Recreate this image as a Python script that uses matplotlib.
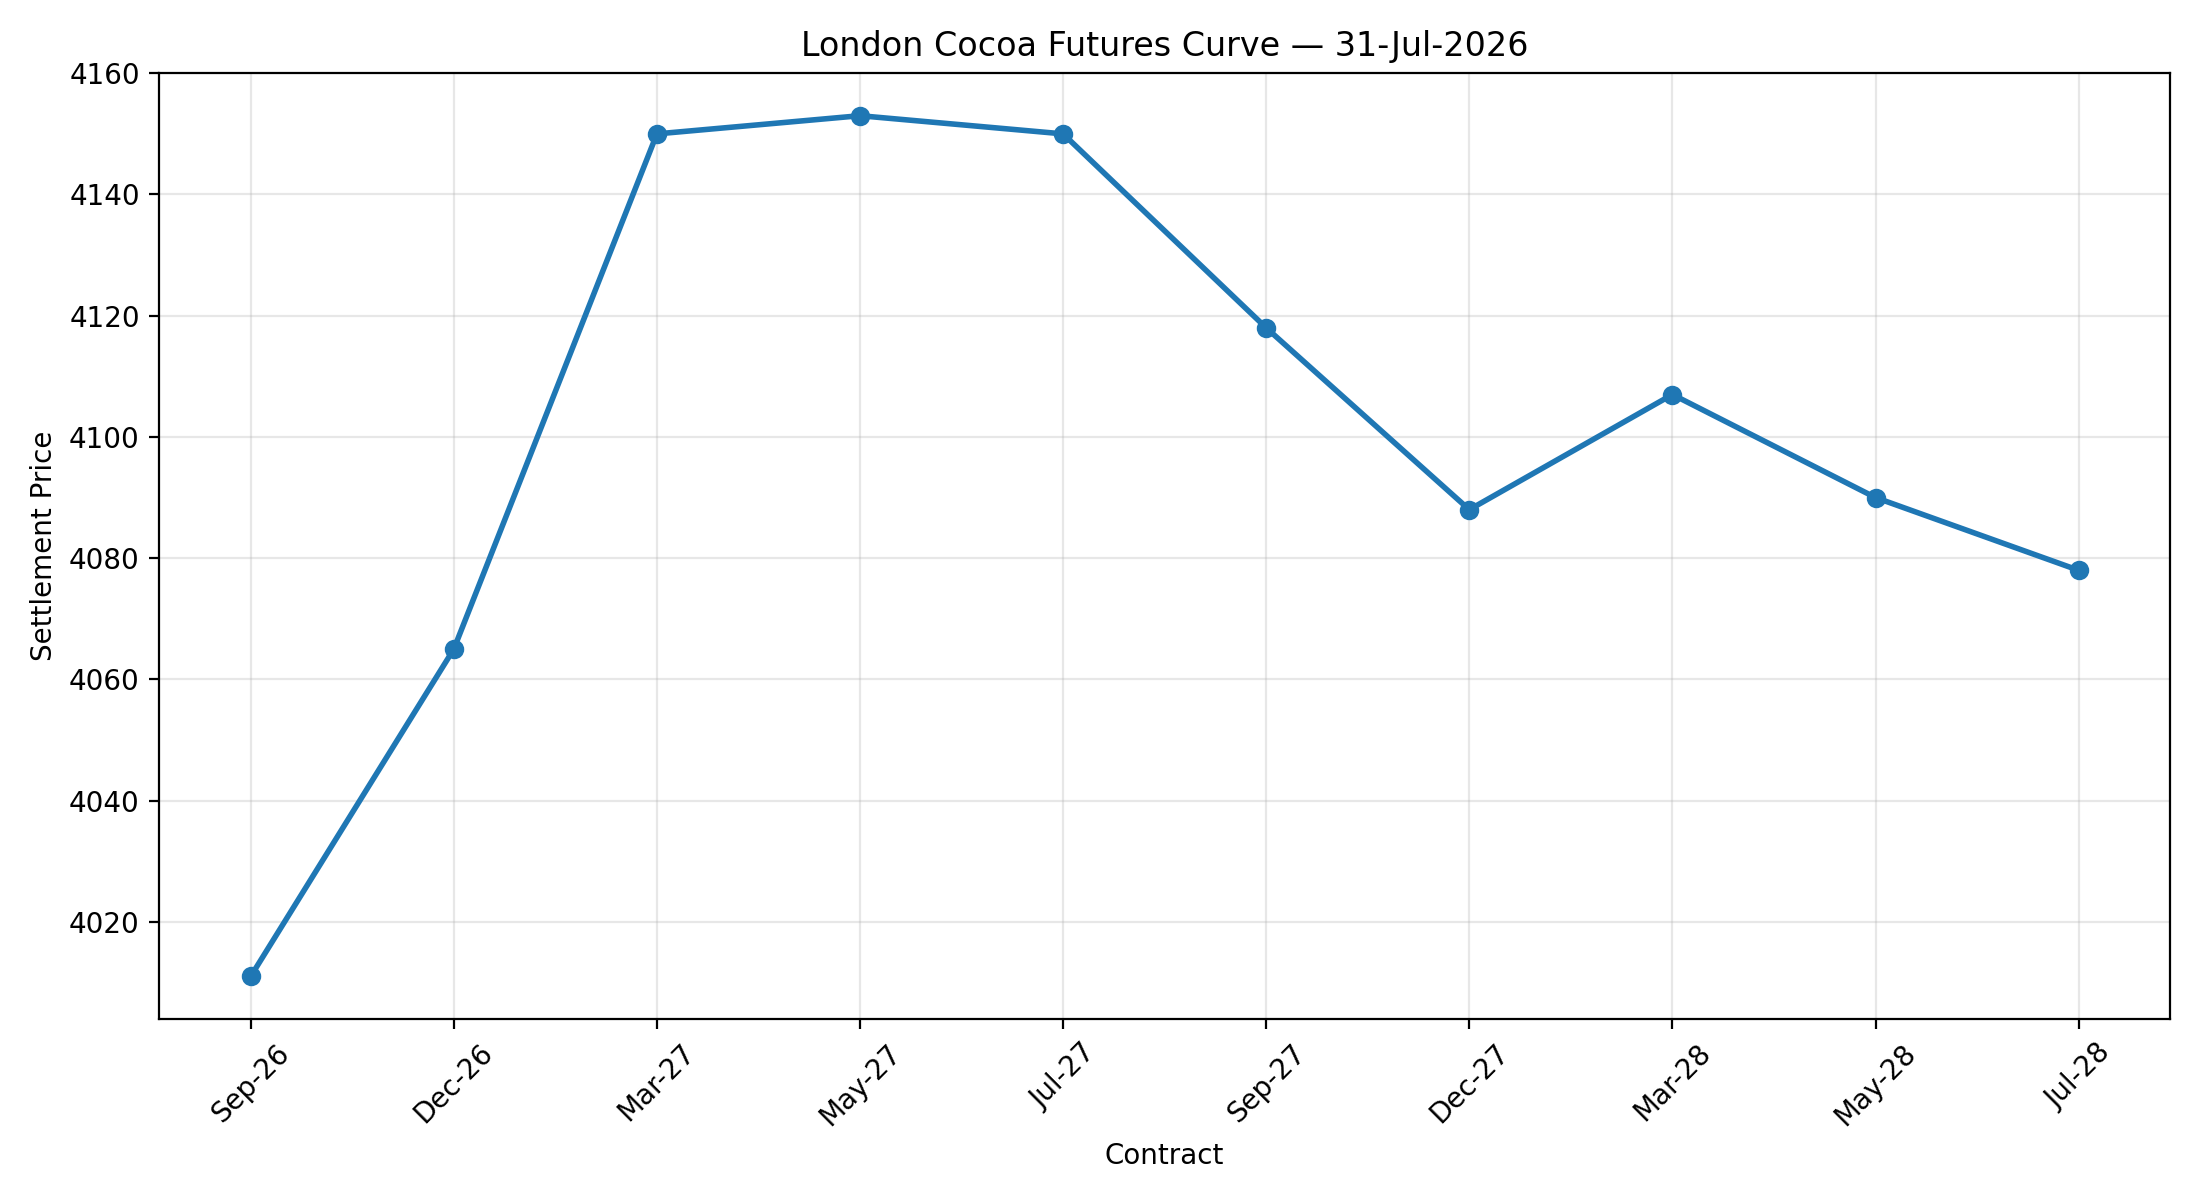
import matplotlib
matplotlib.use("Agg")
import matplotlib.pyplot as plt

contracts = ["Sep-26", "Dec-26", "Mar-27", "May-27", "Jul-27", "Sep-27", "Dec-27", "Mar-28", "May-28", "Jul-28"]
prices = [4011, 4065, 4150, 4153, 4150, 4118, 4088, 4107, 4090, 4078]

fig, ax = plt.subplots(figsize=(11, 6), dpi=200)
ax.plot(contracts, prices, marker="o", linewidth=2, markersize=6, color="#1f77b4")
ax.set_title("London Cocoa Futures Curve — 31-Jul-2026")
ax.set_xlabel("Contract")
ax.set_ylabel("Settlement Price")
ax.grid(True, alpha=0.3)
plt.setp(ax.get_xticklabels(), rotation=45)
fig.tight_layout()
fig.savefig("out.png")
